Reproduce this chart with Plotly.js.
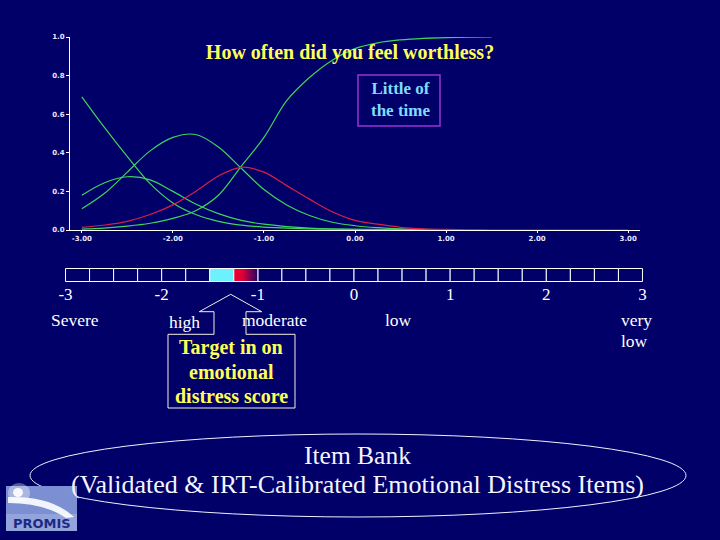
<!DOCTYPE html>
<html><head><meta charset="utf-8">
<script src="https://cdn.plot.ly/plotly-3.0.1.min.js"></script>
<style>html,body{margin:0;padding:0;background:#000068;}#chart{width:720px;height:540px;}</style>
</head><body><div id="chart"></div>
<script>
// ---- data ----
const theta = [-3,-2.75,-2.5,-2.25,-2,-1.75,-1.5,-1.25,-1,-0.75,-0.5,-0.25,0,0.25,0.5,0.75,1,1.25,1.5,1.75,2,2.25,2.5,2.75,3];
const pAll    = [0.69,0.53,0.38,0.24,0.14,0.08,0.045,0.025,0.015,0.01,0.006,0.004,0.003,0.002,0.001,0.001,0.0];
const pMost   = [0.18,0.245,0.276,0.26,0.20,0.135,0.085,0.05,0.03,0.018,0.01,0.006,0.004,0.003,0.002,0.001,0.0];
const pSome   = [0.11,0.19,0.30,0.41,0.48,0.495,0.43,0.32,0.21,0.13,0.075,0.04,0.022,0.012,0.006,0.003,0.001];
const pLittle = [0.014,0.026,0.045,0.08,0.13,0.20,0.28,0.325,0.30,0.23,0.16,0.095,0.05,0.03,0.014,0.006,0.003,0.001,0,0,0,0,0,0,0];
const pNone   = [0.005,0.01,0.02,0.035,0.06,0.10,0.18,0.33,0.48,0.67,0.79,0.88,0.94,0.97,0.985,0.993,0.997,0.999,1.0];

const plotXTicks = [-3,-2,-1,0,1,2,3];
const plotXLabels = ['-3.00','-2.00','-1.00','0.00','1.00','2.00','3.00'];
const plotYTicks = [0,0.2,0.4,0.6,0.8,1.0];
const plotYLabels = ['0.0','0.2','0.4','0.6','0.8','1.0'];

// score bar: 24 cells of 0.25 from -3 to 3; 0 = plain, 1 = cyan, 2 = red gradient
const cellState = [0,0,0,0,0,0,1,2,0,0,0,0,0,0,0,0,0,0,0,0,0,0,0,0];
const scaleTicks = [-3,-2,-1,0,1,2,3];
const scaleLabels = ['-3','-2','-1','0','1','2','3'];

// ---- helpers (pixel -> paper) ----
const W = 720, H = 540;
const X = p => p / W;
const Y = p => 1 - p / H;
const BG = '#000068';
const SERIF = 'Liberation Serif, Times New Roman, serif';
const GREEN = '#3fd45a', RED = '#d81f45';

function curve(vals, color) {
  return {type:'scatter', mode:'lines', x: theta.slice(0, vals.length), y: vals,
    line:{color: color, width:1.2, shape:'spline', smoothing:1.0},
    xaxis:'x', yaxis:'y', hoverinfo:'skip', cliponaxis:true};
}

const traces = [
  curve(pAll, GREEN), curve(pMost, GREEN), curve(pSome, GREEN), curve(pNone, GREEN), curve(pLittle, RED)
];

// score bar cells
const cellW = 6 / cellState.length;
const cellX = cellState.map((s, i) => -3 + cellW * (i + 0.5));
traces.push({type:'bar', x: cellX, y: cellState.map(() => 1), width: cellW,
  marker:{color: cellState.map(s => s === 1 ? '#6cf2ff' : BG), line:{color:'#ffffff', width:1}},
  xaxis:'x2', yaxis:'y2', hoverinfo:'skip', cliponaxis:false});
cellState.forEach((s, i) => {
  if (s === 2) {
    const x0 = -3 + cellW * i, x1 = x0 + cellW;
    traces.push({type:'scatter', mode:'lines', x:[x0,x1,x1,x0,x0], y:[0,0,1,1,0],
      fill:'toself', fillgradient:{type:'horizontal', colorscale:[[0,'#f0002e'],[0.35,'#e00038'],[1,'#220068']]},
      line:{color:'#ffffff', width:1}, xaxis:'x2', yaxis:'y2', hoverinfo:'skip', cliponaxis:false});
  }
});

const tickFont = {family:'DejaVu Sans, sans-serif', size:7, color:'#e6e6ff', weight:'bold'};

function txt(x, y, text, size, color, bold) {
  return {xref:'paper', yref:'paper', x:X(x), y:Y(y), xanchor:'center', yanchor:'middle',
    text: bold ? '<b>' + text + '</b>' : text, showarrow:false,
    font:{family:SERIF, size:size, color:color}};
}

const annotations = [
  txt(400, 100, 'Little of<br>the time', 17, '#80dcff', true),
  txt(231, 347, 'Target in on', 20, '#ffff55', true),
  txt(231, 371.5, 'emotional', 20, '#ffff55', true),
  txt(231, 395.5, 'distress score', 20, '#ffff55', true),
  txt(75, 320, 'Severe', 17.5, '#ffffff', false),
  txt(184, 322, 'high', 17.5, '#ffffff', false),
  txt(274, 320, 'moderate', 17.5, '#ffffff', false),
  txt(398, 320, 'low', 17.5, '#ffffff', false),
  txt(636, 320, 'very', 17.5, '#ffffff', false),
  txt(634, 341, 'low', 17.5, '#ffffff', false),
  txt(357, 455, 'Item Bank', 25.5, '#f4f4ff', false),
  txt(357, 484, '(Validated &amp; IRT-Calibrated Emotional Distress Items)', 26, '#f4f4ff', false),
  {xref:'paper', yref:'paper', x:X(42), y:Y(523), xanchor:'center', yanchor:'middle', showarrow:false,
   text:'<b>PROMIS</b>', font:{family:'DejaVu Sans, sans-serif', size:13, color:'#1c2a85'}}
];

const pts = [[214,311.7],[199.3,311.7],[230.7,294.3],[261.7,311.7],[246,311.7],[246,334.3],[295,334.3],[295,408],[168,408],[168,334.3],[214,334.3]];
const calloutPath = 'M' + pts.map(p => X(p[0]).toFixed(5) + ',' + Y(p[1]).toFixed(5)).join(' L') + ' Z';

const swoosh = 'M' + X(8) + ',' + Y(497) + ' Q' + X(52) + ',' + Y(496) + ' ' + X(74) + ',' + Y(517) +
  ' L' + X(66) + ',' + Y(518) + ' Q' + X(44) + ',' + Y(503) + ' ' + X(8) + ',' + Y(503) + ' Z';

const shapes = [
  {type:'rect', xref:'paper', yref:'paper', x0:X(358), x1:X(440), y0:Y(75), y1:Y(126), line:{color:'#9a35d0', width:1.5}},
  {type:'path', xref:'paper', yref:'paper', path: calloutPath, line:{color:'#f2f2dc', width:1}},
  {type:'circle', xref:'paper', yref:'paper', x0:X(30), x1:X(686), y0:Y(434), y1:Y(517), line:{color:'#f0f0ff', width:1}},
  {type:'rect', xref:'paper', yref:'paper', x0:X(6), x1:X(77), y0:Y(486), y1:Y(531), fillcolor:'#7b8fd2', line:{width:0}},
  {type:'rect', xref:'paper', yref:'paper', x0:X(6), x1:X(77), y0:Y(514), y1:Y(531), fillcolor:'#93a4dc', line:{width:0}},
  {type:'path', xref:'paper', yref:'paper', path: swoosh, fillcolor:'rgba(255,255,255,0.9)', line:{width:0}},
  {type:'circle', xref:'paper', yref:'paper', x0:X(8), x1:X(30), y0:Y(483), y1:Y(503), fillcolor:'rgba(255,255,255,0.35)', line:{width:0}},
  {type:'circle', xref:'paper', yref:'paper', x0:X(13), x1:X(23), y0:Y(488), y1:Y(497), fillcolor:'rgba(255,255,255,0.9)', line:{width:0}}
];

const layout = {
  width:W, height:H, margin:{l:0,r:0,t:0,b:0},
  paper_bgcolor:BG, plot_bgcolor:BG, showlegend:false,
  title:{text:'<b>How often did you feel worthless?</b>', x:X(350), xanchor:'center', y:Y(52), yanchor:'middle',
    xref:'paper', yref:'paper', font:{family:SERIF, size:20, color:'#ffff55'}},
  xaxis:{domain:[X(70), X(640)], range:[-3.13, 3.13], anchor:'y', showline:true, linecolor:'#ffffff', linewidth:1,
    tickvals:plotXTicks, ticktext:plotXLabels, ticks:'outside', ticklen:2, tickcolor:'#ffffff',
    tickfont:tickFont, showgrid:false, zeroline:false, fixedrange:true},
  yaxis:{domain:[Y(230), Y(37)], range:[0, 1], anchor:'x', showline:true, linecolor:'#ffffff', linewidth:1,
    tickvals:plotYTicks, ticktext:plotYLabels, ticks:'outside', ticklen:3, tickcolor:'#ffffff',
    tickfont:tickFont, showgrid:false, zeroline:false, fixedrange:true},
  xaxis2:{domain:[X(63.6), X(644.4)], range:[-3.02, 3.02], anchor:'y2', showline:false, showgrid:false, zeroline:false,
    tickvals:scaleTicks, ticktext:scaleLabels, ticks:'', tickfont:{family:SERIF, size:17, color:'#ffffff'}, fixedrange:true},
  yaxis2:{domain:[Y(282.15), Y(267.85)], range:[-0.05, 1.05], anchor:'x2', visible:false, fixedrange:true},
  bargap:0,
  annotations: annotations,
  shapes: shapes
};

Plotly.newPlot('chart', traces, layout, {displayModeBar:false, staticPlot:true});
</script>
</body></html>
